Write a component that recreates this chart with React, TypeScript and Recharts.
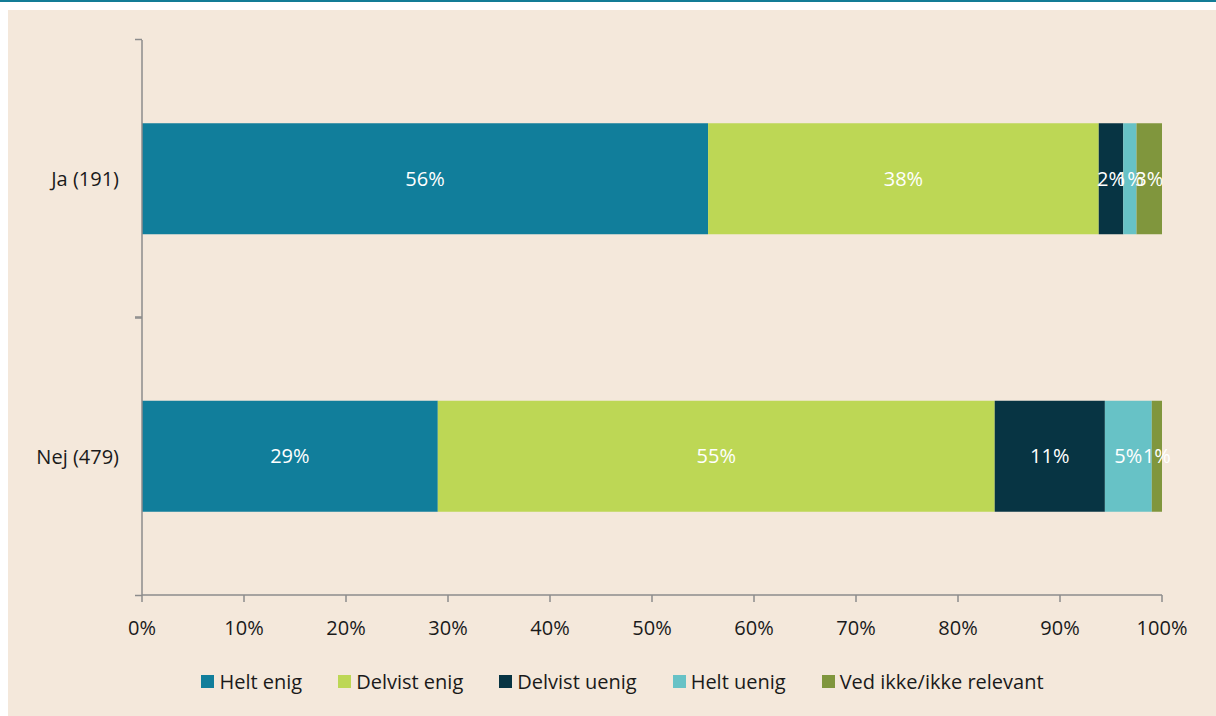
import React from "react";
import { BarChart, Bar, XAxis, YAxis, LabelList, Legend } from "recharts";

const categories = ["Ja (191)", "Nej (479)"];
const heltEnig = [55.5, 29.0];
const delvistEnig = [38.3, 54.6];
const delvistUenig = [2.4, 10.8];
const heltUenig = [1.3, 4.6];
const vedIkke = [2.5, 1.0];
const xTicks = [0, 10, 20, 30, 40, 50, 60, 70, 80, 90, 100];

const series = [
  { key: "heltEnig", name: "Helt enig", values: heltEnig, color: "#117E9B" },
  { key: "delvistEnig", name: "Delvist enig", values: delvistEnig, color: "#BDD755" },
  { key: "delvistUenig", name: "Delvist uenig", values: delvistUenig, color: "#073443" },
  { key: "heltUenig", name: "Helt uenig", values: heltUenig, color: "#67C2C6" },
  { key: "vedIkke", name: "Ved ikke/ikke relevant", values: vedIkke, color: "#80963D" },
];

const data = categories.map((cat, i) => {
  const row: Record<string, string | number> = { cat };
  series.forEach((s) => (row[s.key] = s.values[i]));
  return row;
});

const W = 1208;
const H = 706;
const LEGEND_H = 49;
// plot area: top 30, bottom at 587 (chart coords); recharts adds the legend box to the bottom offset
const MARGIN = { top: 30, right: 54, bottom: 42, left: 0 };
const Y_WIDTH = 134;
const PLOT_H = 587 - 30;
const FONT = "'Open Sans', 'Noto Sans', sans-serif";
const AXIS = "#8c8c8c";
const TEXT = "#1a1a1a";

function YTick(props: any) {
  const { x, y, payload } = props;
  const band = PLOT_H / categories.length;
  const ax = Y_WIDTH;
  return (
    <g>
      <line x1={ax - 7} x2={ax} y1={y - band / 2} y2={y - band / 2} stroke={AXIS} strokeWidth={1.5} />
      <line x1={ax - 7} x2={ax} y1={y + band / 2} y2={y + band / 2} stroke={AXIS} strokeWidth={1.5} />
      <text x={x} y={y} textAnchor="end" dominantBaseline="central" fill={TEXT} fontSize={20} fontFamily={FONT}>
        {payload.value}
      </text>
    </g>
  );
}

function LegendContent() {
  return (
    <div style={{ display: "flex", justifyContent: "center", gap: 36, fontFamily: FONT, fontSize: 20, color: TEXT, paddingLeft: 75, height: LEGEND_H, alignItems: "center" }}>
      {series.map((s) => (
        <div key={s.key} style={{ display: "flex", alignItems: "center" }}>
          <span style={{ width: 13, height: 13, background: s.color, display: "inline-block", marginRight: 5 }} />
          <span>{s.name}</span>
        </div>
      ))}
    </div>
  );
}

export default function App() {
  return (
    <div style={{ position: "absolute", left: 0, top: 0, width: 1216, height: 716, background: "#fff" }}>
      <style>{`body{margin:0}`}</style>
      <div style={{ position: "absolute", left: 0, top: 0, width: 1216, height: 2, background: "#137C96" }} />
      <div style={{ position: "absolute", left: 8, top: 10, width: W, height: H, background: "#F4E8DB" }}>
        <BarChart width={W} height={H} data={data} layout="vertical" margin={MARGIN} barCategoryGap="30%">
          <XAxis
            type="number"
            domain={[0, 100]}
            ticks={xTicks}
            tickFormatter={(v) => `${v}%`}
            tickSize={7}
            tickMargin={19}
            axisLine={{ stroke: AXIS, strokeWidth: 1.5 }}
            tickLine={{ stroke: AXIS, strokeWidth: 1.5 }}
            tick={{ fill: TEXT, fontSize: 20, fontFamily: FONT }}
            interval={0}
          />
          <YAxis
            type="category"
            dataKey="cat"
            width={Y_WIDTH}
            tickSize={7}
            tickMargin={16}
            tickLine={false}
            axisLine={{ stroke: AXIS, strokeWidth: 1.5 }}
            tick={<YTick />}
          />
          <Legend verticalAlign="bottom" wrapperStyle={{ bottom: 10 }} content={<LegendContent />} />
          {series.map((s) => (
            <Bar key={s.key} dataKey={s.key} name={s.name} stackId="a" fill={s.color} isAnimationActive={false}>
              <LabelList
                dataKey={s.key}
                position="center"
                formatter={(v: any) => `${Math.round(Number(v))}%`}
                fill="#ffffff"
                fontSize={20}
                fontFamily={FONT}
              />
            </Bar>
          ))}
        </BarChart>
      </div>
    </div>
  );
}
